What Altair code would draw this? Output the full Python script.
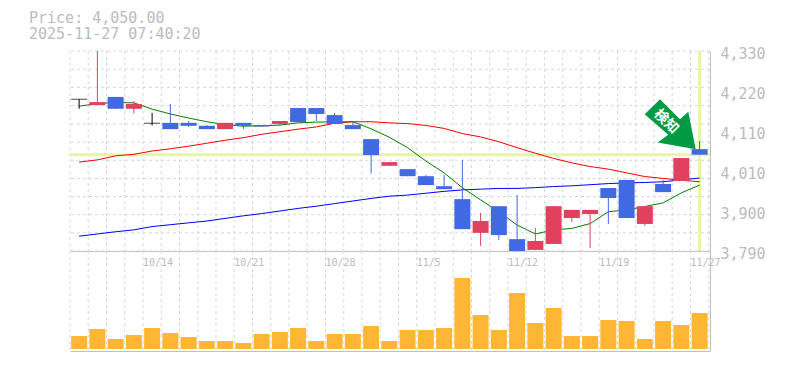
import altair as alt
import pandas as pd

opens = [4200,4184,4206,4174,4135,4136,4136,4128,4119,4136,4130,4133,4176,4176,4157,4130,4092,4020,4011,3992,3965,3930,3839,3911,3822,3793,3809,3879,3890,3960,3982,3863,3971,3979,4065]
closes = [4200,4192,4174,4187,4135,4119,4128,4119,4136,4128,4126,4141,4138,4160,4133,4119,4049,4030,3992,3968,3957,3849,3871,3833,3790,3817,3911,3901,3901,3933,3879,3911,3949,4041,4050]
highs = [4200,4330,4206,4195,4163,4187,4141,4130,4136,4136,4130,4141,4176,4176,4163,4138,4092,4030,4011,3995,3995,4036,3893,3911,3941,3852,3911,3901,3901,3960,3982,3911,3982,4041,4087]
lows = [4174,4184,4174,4161,4129,4119,4125,4119,4119,4119,4126,4128,4136,4141,4133,4119,3999,4020,3992,3968,3957,3849,3804,3820,3790,3793,3809,3868,3798,3863,3879,3858,3949,3979,4050]
ma_green = [4181,4188,4191,4190,4173,4160,4149,4139,4131,4127,4128,4130,4136,4138,4139,4139,4120,4097,4069,4033,4001,3961,3928,3896,3860,3836,3847,3851,3864,3896,3901,3910,3920,3947,3968]
ma_red = [4030,4036,4047,4051,4060,4066,4073,4081,4089,4096,4105,4112,4119,4125,4135,4139,4139,4136,4134,4129,4121,4107,4098,4085,4069,4054,4040,4028,4018,4011,4001,3991,3986,3981,3977]
ma_blue = [3830,3836,3842,3847,3856,3861,3866,3871,3878,3885,3891,3898,3905,3911,3918,3925,3932,3938,3941,3946,3951,3955,3957,3959,3959,3961,3964,3966,3969,3972,3974,3975,3977,3982,3987]
volume = [13,20,10,14,21,16,12,8,8,6,15,17,21,8,15,15,23,8,19,19,21,71,34,19,56,26,41,13,13,29,28,10,28,24,36]
date_pos = [4,9,14,19,24,29,34]
date_labels = ["10/14","10/21","10/28","11/5","11/12","11/19","11/27"]
y_ticks = [3790,3898,4006,4114,4222,4330]
y_grid = [3790,3839,3888,3937,3986,4035,4084,4133,4183,4232,4281,4330]
x_grid = list(range(36))
title_lines = ["Price: 4,050.00","2025-11-27 07:40:20"]
last_price = 4050
badge_text = "検知"

MONO = "DejaVu Sans Mono"
GREY = "#bcbcbc"
GRID = "#d8d8d8"
LINE = "#c0c0c0"
YEL = "#e6f5a8"
XDOM = [0, 35.07]

n = len(opens)
df = pd.DataFrame({
    "x": [i + 0.5 for i in range(n)],
    "open": opens, "close": closes, "high": highs, "low": lows,
    "green": ma_green, "red": ma_red, "blue": ma_blue, "vol": volume,
})
df["kind"] = ["up" if c > o else ("down" if c < o else "flat") for o, c in zip(opens, closes)]
color = alt.Color("kind:N", legend=None,
                  scale=alt.Scale(domain=["up", "down", "flat"], range=["#e2405f", "#4169e1", "#000000"]))

xs = alt.Scale(domain=XDOM, nice=False, zero=False, padding=0)
ys = alt.Scale(domain=[3790, 4330], nice=False, zero=False, padding=0)
vs = alt.Scale(domain=[-2, 98], nice=False, zero=False, padding=0)

x_axis = alt.Axis(labels=False, ticks=False, grid=False, title=None, domain=True,
                  domainColor=LINE, domainWidth=1)
y_axis = alt.Axis(orient="right", values=y_ticks, grid=False, ticks=False, title=None,
                  domain=True, domainColor=LINE, domainWidth=1,
                  labelExpr="format(round(datum.value/10)*10, ',')",
                  labelFont=MONO, labelFontSize=15, labelColor=GREY,
                  labelPadding=10, labelOffset=2.5, labelFlush=False,
                  labelBaseline="middle", labelOverlap=False)
v_axis = alt.Axis(orient="right", labels=False, ticks=False, grid=False, title=None,
                  domain=True, domainColor=LINE, domainWidth=1)

def X(f="x:Q"):
    return alt.X(f, scale=xs, axis=x_axis, title=None)
def Y(f):
    return alt.Y(f, scale=ys, axis=y_axis, title=None)
def V(f):
    return alt.Y(f, scale=vs, axis=v_axis, title=None)

base = alt.Chart(df)

hgrid = alt.Chart(pd.DataFrame({"v": y_grid})).mark_rule(color=GRID, strokeDash=[3, 3], strokeWidth=1).encode(y=Y("v:Q"))
vgrid_df = pd.DataFrame({"x": x_grid})
vgrid = alt.Chart(vgrid_df).mark_rule(color=GRID, strokeDash=[3, 3], strokeWidth=1).encode(x=X())
hline = alt.Chart(pd.DataFrame({"v": [last_price]})).mark_rule(color=YEL, strokeWidth=3).encode(y=Y("v:Q"))
vline = alt.Chart(pd.DataFrame({"x": [n - 0.5]})).mark_rule(color=YEL, strokeWidth=3).encode(x=X())

def ma(col, c):
    return base.mark_line(color=c, strokeWidth=1).encode(x=X(), y=Y(f"{col}:Q"))

wicks = base.mark_rule(strokeWidth=1).encode(x=X(), y=Y("high:Q"), y2="low:Q", color=color)
bodies = base.transform_filter("datum.kind != 'flat'").mark_bar(size=16).encode(
    x=X(), y=Y("open:Q"), y2="close:Q", color=color)
doji = base.transform_filter("datum.kind == 'flat'").mark_tick(
    size=16, thickness=1, orient="horizontal", color="#000000").encode(x=X(), y=Y("open:Q"))

arrow_path = "M-3.9 0 L-41.9 -6.6 L-31.3 -14.3 L-54.9 -35 L-39.6 -50 L-19.6 -30 L-11.3 -37.3 Z"
anchor = pd.DataFrame({"x": [n - 0.5], "v": [4065]})
arrow = alt.Chart(anchor).mark_point(shape=arrow_path, size=4, filled=True, color="#009944",
                                     opacity=1, strokeWidth=0).encode(x=X(), y=Y("v:Q"))
badge_df = pd.DataFrame({"x": [32.66], "v": [4139], "t": [badge_text]})
badge = alt.Chart(badge_df).mark_text(font="Noto Sans CJK JP", fontSize=14, fontWeight="bold", color="#ffffff",
                                      angle=45, baseline="middle", align="center").encode(
    x=X(), y=Y("v:Q"), text="t:N")

def title_line(txt, py):
    return alt.Chart(pd.DataFrame({"t": [txt]})).mark_text(
        font=MONO, fontSize=15, color=GREY, align="left", baseline="middle").encode(
        x=alt.value(-41), y=alt.value(py), text="t:N")

top = alt.layer(hgrid, vgrid, hline, vline, ma("blue", "#0000ff"), ma("red", "#ff0000"),
                ma("green", "#008000"), wicks, bodies, doji, arrow, badge,
                title_line(title_lines[0], -33), title_line(title_lines[1], -17)
                ).properties(width=640, height=200)

vgrid2 = alt.Chart(vgrid_df).mark_rule(color=GRID, strokeDash=[3, 3], strokeWidth=1).encode(x=X())
vols = base.mark_bar(size=16, color="#ffb733").encode(x=X(), y=V("vol:Q"))
ticks_df = pd.DataFrame({"x": date_pos, "t": date_labels})
date_text = alt.Chart(ticks_df).mark_text(font=MONO, fontSize=10, color=GREY, align="left", baseline="middle").encode(
    x=X(), y=alt.value(12), text="t:N")
bottom = alt.layer(vgrid2, vols, date_text).properties(width=640, height=100)

chart = alt.vconcat(top, bottom, spacing=0, bounds="flush").properties(
    padding={"left": 21, "top": 3, "right": 5, "bottom": 0}
).configure_view(stroke=None)

chart.save("out.html", embed_options={"renderer": "svg", "actions": False})
